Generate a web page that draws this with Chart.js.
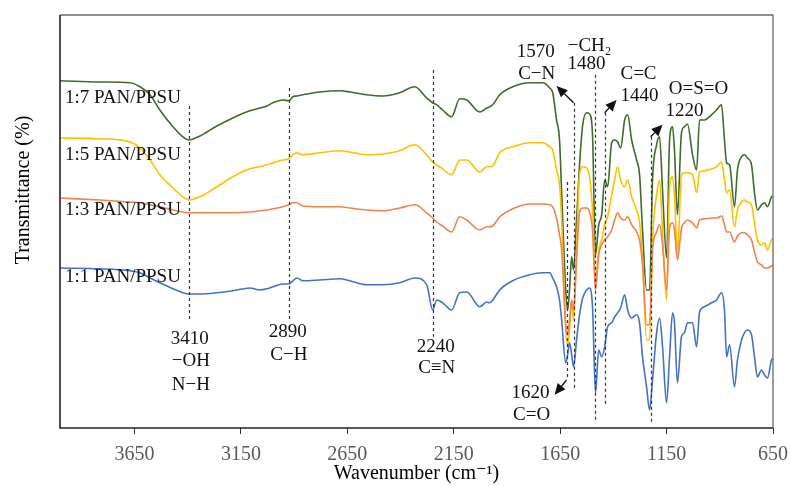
<!DOCTYPE html>
<html>
<head>
<meta charset="utf-8">
<script src="https://cdn.jsdelivr.net/npm/chart.js@4.4.1/dist/chart.umd.min.js"></script>
<style>
  html, body { margin: 0; padding: 0; background: #fff; }
  #espectroFtir { display: block; }
</style>
</head>
<body>
<canvas id="espectroFtir" width="790" height="486"></canvas>
<script>
// Wavenumber (cm-1), shared by all four spectra
const wavenumbers = [
  4000, 3812, 3671, 3624, 3577, 3531, 3469, 3423, 3394, 3343,
  3263, 3188, 3108, 3061, 3028, 3000, 2953, 2925, 2906, 2887,
  2859, 2779, 2685, 2638, 2559, 2484, 2404, 2333, 2277, 2249,
  2230, 2202, 2160, 2122, 2089, 2028, 1995, 1981, 1967, 1934,
  1873, 1793, 1732, 1699, 1685, 1667, 1653, 1643, 1624, 1615,
  1606, 1596, 1587, 1573, 1559, 1544, 1526, 1512, 1498, 1484,
  1469, 1455, 1441, 1427, 1408, 1394, 1380, 1366, 1347, 1333,
  1314, 1291, 1277, 1263, 1244, 1230, 1216, 1197, 1183, 1169,
  1150, 1136, 1122, 1113, 1099, 1080, 1066, 1052, 1028, 1009,
  995, 972, 939, 915, 892, 878, 868, 854, 831, 817,
  798, 784, 770, 751, 737, 723, 704, 690, 676, 657,
  650
];

// Transmittance (offset, arbitrary units)
const pan1ppsu = [
  40, 39.8, 39.3, 38.8, 37.5, 36.3, 34.8, 33.8, 33.5, 33.5,
  33.8, 34.3, 35, 34.5, 34.8, 35.3, 36, 36, 36.8, 37.5,
  36.8, 37, 37.3, 36.8, 35.8, 35.8, 36.3, 37.5, 35.8, 29.5,
  32, 31.3, 29.5, 33.8, 34, 30.3, 31.5, 31.3, 32, 34.5,
  36.8, 38.3, 38.8, 38.8, 37.5, 35.3, 32, 27, 16.3, 18.3,
  21.3, 18.3, 15.3, 22, 28.3, 32.5, 34.5, 35, 30.3, 8.8,
  19.5, 17.8, 20.3, 25.3, 26.3, 27.8, 28.8, 30, 33.3, 29.5,
  27.5, 28.3, 26.3, 17.8, 10.3, 4.5, 12, 23.8, 27.5, 20.3,
  6.3, 17.8, 28.8, 26.3, 11.3, 22.8, 23.8, 26.3, 26.3, 20.3,
  29, 30.3, 31.3, 32, 33.8, 29.5, 17.8, 20.8, 10.3, 17,
  22, 23.8, 24.5, 23.3, 17.8, 12.8, 14.5, 13.3, 12.5, 17,
  17.5
];

const pan3ppsu = [
  57.5, 57, 56.5, 56.3, 55.8, 55.3, 54.5, 54, 53.8, 53.8,
  53.8, 53.8, 54, 54.3, 54.5, 54.8, 55.3, 55.8, 56.3, 56.3,
  55.5, 55.3, 55.3, 55, 54.5, 54.3, 55, 55.8, 53.8, 52.5,
  51.5, 50.5, 49, 52.8, 52, 49.5, 50.3, 50.3, 50.5, 52.8,
  54.8, 56, 56, 55.8, 55.3, 52.5, 48.3, 44.5, 25.8, 23.3,
  27, 32, 29.5, 42, 54, 55, 55, 54, 49.5, 34.5,
  43.3, 45.8, 47, 47.8, 49.5, 52, 53.8, 52.5, 52, 52.8,
  50.8, 49, 47, 40.8, 25.8, 25.8, 44.5, 49, 50.8, 45.8,
  34.5, 50, 51.3, 49.5, 42, 50, 51.3, 52, 51.3, 50,
  52, 52.3, 52.5, 52.5, 53, 50.8, 49, 49, 46.5, 48,
  48.8, 48.8, 48.3, 47, 44, 41.5, 40.8, 40, 40, 40.5,
  40.8
];

const pan5ppsu = [
  72.5, 72.3, 71.5, 70, 67, 63.3, 60, 57.8, 57, 57.8,
  60.3, 62.8, 64.8, 65.3, 65.8, 66.3, 67, 67.3, 68.3, 68.8,
  68.3, 68.8, 69.3, 69, 68.3, 68.5, 69.3, 70.8, 68.3, 66.5,
  65.8, 64.8, 63.3, 67, 67, 64, 65.3, 65.3, 65.5, 68.8,
  70.3, 71.3, 71.3, 70.3, 69.5, 64.5, 60.8, 52, 24.5, 20.8,
  24.5, 32, 27, 44.5, 63.3, 65.3, 65, 62.8, 54.5, 37,
  44.5, 47, 50.8, 52.8, 58.3, 62, 65.3, 62, 60.3, 62,
  57.8, 54.5, 51.5, 42, 22, 22, 47, 58.3, 62, 48.8,
  32, 60.3, 62.8, 58.3, 43.3, 63.3, 63.8, 63.8, 63.3, 58.8,
  64, 64.3, 64.8, 65.3, 66.5, 62, 58.8, 59.5, 50.3, 54.5,
  56.5, 57, 56.5, 55.8, 51.3, 47, 45.8, 46.3, 44.5, 47,
  47.5
];

const pan7ppsu = [
  86.8, 86.5, 86.3, 85.3, 83.3, 79.5, 75.3, 72.8, 72, 73,
  75.5, 77.5, 79.3, 80, 80.5, 81.3, 82, 81.8, 82.8, 83,
  83.3, 84, 84.3, 84, 83.3, 83, 83.8, 85.3, 82.5, 81.3,
  80.8, 79.5, 77.8, 82.3, 82, 79, 80, 80.3, 80.8, 83.3,
  85.3, 86.3, 86.3, 85, 83.8, 77, 72, 58.8, 34.5, 29.5,
  34.5, 42.8, 39.5, 52, 65.8, 75.8, 78.8, 78.5, 73.3, 43.3,
  50.8, 53.3, 62, 60.3, 71.3, 72, 71.5, 70, 77, 78.3,
  72, 67, 63.3, 49.5, 34.5, 34.5, 62, 70.8, 72.8, 59.5,
  42.5, 72, 75.3, 69.5, 53.3, 73.8, 75.3, 76, 68.3, 64.5,
  77, 77, 78.3, 79.5, 80.8, 72, 66.3, 65.8, 55.3, 64.5,
  67.8, 68.3, 67.5, 65.8, 58.8, 54.5, 55.8, 56.3, 55.3, 57.8,
  58
];

const seriesNames = ["1:1 PAN/PPSU", "1:3 PAN/PPSU", "1:5 PAN/PPSU", "1:7 PAN/PPSU"];
const xTickValues = [3650, 3150, 2650, 2150, 1650, 1150, 650];

// Peak marks: dashed guide lines, arrows and band labels (wavenumber / transmittance units)
const lineasPico = [
  { wn: 3394, top: 80.5, bottom: 26.5 },
  { wn: 2925, top: 85, bottom: 27 },
  { wn: 2249, top: 89.5, bottom: 22.8 },
  { wn: 1620, top: 61.5, bottom: 12 },
  { wn: 1587, top: 81.3, bottom: 10 },
  { wn: 1488, top: 88.3, bottom: 1.3 },
  { wn: 1441, top: 78.8, bottom: 5.3 },
  { wn: 1225, top: 72.8, bottom: 1.3 }
];
const flechas = [
  { from: [1587, 81.3], to: [1667, 85.5] },
  { from: [1441, 78.8], to: [1385, 82] },
  { from: [1225, 72.8], to: [1169, 75.8] },
  { from: [1620, 12], to: [1676, 8.3] }
];
const textosPico = [
  { t: "1570", wn: 1765, y: 94 }, { t: "C\u2212N", wn: 1760, y: 88.5 },
  { t: "\u2212CH\u2082", wn: 1512, y: 95.5 }, { t: "1480", wn: 1526, y: 91 },
  { t: "C=C", wn: 1282, y: 88.5 }, { t: "1440", wn: 1277, y: 83 },
  { t: "O=S=O", wn: 1000, y: 84.8 }, { t: "1220", wn: 1066, y: 79.3 },
  { t: "1620", wn: 1789, y: 8.8 }, { t: "C=O", wn: 1784, y: 3.3 },
  { t: "2240", wn: 2235, y: 20.3 }, { t: "C\u2261N", wn: 2230, y: 15 },
  { t: "3410", wn: 3390, y: 22.3 }, { t: "\u2212OH", wn: 3385, y: 16.8 }, { t: "N\u2212H", wn: 3385, y: 10.8 },
  { t: "2890", wn: 2930, y: 24 }, { t: "C\u2212H", wn: 2925, y: 18.3 }
];
const etiquetasSerie = [
  { t: seriesNames[3], wn: 3977, y: 82.5 },
  { t: seriesNames[2], wn: 3977, y: 68.3 },
  { t: seriesNames[1], wn: 3977, y: 54.5 },
  { t: seriesNames[0], wn: 3977, y: 37.8 }
];

const serif = "'Liberation Serif', 'DejaVu Serif', serif";

const notasPlugin = {
  id: "notasFtir",
  afterDatasetsDraw(chart) {
    const { ctx, chartArea, scales: { x, y } } = chart;
    ctx.save();

    // frame
    ctx.setLineDash([]);
    ctx.lineWidth = 1.3;
    ctx.strokeStyle = "#6b6b6b";
    ctx.beginPath();
    ctx.moveTo(chartArea.left, chartArea.top);
    ctx.lineTo(chartArea.right, chartArea.top);
    ctx.lineTo(chartArea.right, chartArea.bottom);
    ctx.stroke();
    ctx.strokeStyle = "#222";
    ctx.lineWidth = 1.6;
    ctx.beginPath();
    ctx.moveTo(chartArea.left, chartArea.top);
    ctx.lineTo(chartArea.left, chartArea.bottom);
    ctx.lineTo(chartArea.right, chartArea.bottom);
    ctx.stroke();

    // dashed guide lines
    ctx.setLineDash([3, 3]);
    ctx.lineWidth = 1.2;
    ctx.strokeStyle = "#333";
    lineasPico.forEach(l => {
      const px = Math.round(x.getPixelForValue(l.wn)) + 0.5;
      ctx.beginPath();
      ctx.moveTo(px, y.getPixelForValue(l.top));
      ctx.lineTo(px, y.getPixelForValue(l.bottom));
      ctx.stroke();
    });

    // arrows
    ctx.setLineDash([]);
    ctx.fillStyle = "#111";
    ctx.strokeStyle = "#111";
    ctx.lineWidth = 1.3;
    flechas.forEach(f => {
      const x0 = x.getPixelForValue(f.from[0]), y0 = y.getPixelForValue(f.from[1]);
      const x1 = x.getPixelForValue(f.to[0]), y1 = y.getPixelForValue(f.to[1]);
      const ang = Math.atan2(y1 - y0, x1 - x0);
      const largo = 11, ancho = 5;
      const bx = x1 - largo * Math.cos(ang), by = y1 - largo * Math.sin(ang);
      ctx.beginPath();
      ctx.moveTo(x0, y0);
      ctx.lineTo(bx, by);
      ctx.stroke();
      ctx.beginPath();
      ctx.moveTo(x1, y1);
      ctx.lineTo(bx + ancho * Math.sin(ang), by - ancho * Math.cos(ang));
      ctx.lineTo(bx - ancho * Math.sin(ang), by + ancho * Math.cos(ang));
      ctx.closePath();
      ctx.fill();
    });

    // band labels
    ctx.font = "19px " + serif;
    ctx.fillStyle = "#111";
    ctx.textAlign = "center";
    ctx.textBaseline = "middle";
    textosPico.forEach(t => {
      ctx.fillText(t.t, x.getPixelForValue(t.wn), y.getPixelForValue(t.y));
    });

    // series labels
    ctx.textAlign = "left";
    etiquetasSerie.forEach(t => {
      ctx.fillText(t.t, x.getPixelForValue(t.wn), y.getPixelForValue(t.y));
    });

    // y axis title
    ctx.font = "20px " + serif;
    ctx.fillStyle = "#000";
    ctx.textAlign = "center";
    ctx.translate(24, 190);
    ctx.rotate(-Math.PI / 2);
    ctx.fillText("Transmittance (%)", 0, 0);

    ctx.restore();
  }
};

const serie = (valores, color) => ({
  data: wavenumbers.map((wn, i) => ({ x: wn, y: valores[i] })),
  borderColor: color,
  borderWidth: 1.6,
  pointRadius: 0,
  cubicInterpolationMode: "monotone",
  fill: false
});

new Chart(document.getElementById("espectroFtir"), {
  type: "line",
  data: {
    datasets: [
      Object.assign(serie(pan1ppsu, "#4472c4"), { label: seriesNames[0] }),
      Object.assign(serie(pan3ppsu, "#f0834f"), { label: seriesNames[1] }),
      Object.assign(serie(pan5ppsu, "#ffc000"), { label: seriesNames[2] }),
      Object.assign(serie(pan7ppsu, "#3f6b2d"), { label: seriesNames[3] })
    ]
  },
  options: {
    responsive: false,
    devicePixelRatio: 1,
    animation: false,
    layout: { padding: { top: 15, right: 17, left: 0, bottom: 0 } },
    plugins: {
      legend: { display: false },
      tooltip: { enabled: false }
    },
    scales: {
      x: {
        type: "linear",
        reverse: true,
        min: 650,
        max: 4000,
        afterBuildTicks: scale => {
          scale.ticks = xTickValues.map(v => ({ value: v }));
        },
        afterFit: scale => {
          scale.height = 58;
          scale.paddingLeft = 0;
          scale.paddingRight = 0;
        },
        ticks: {
          autoSkip: false,
          maxRotation: 0,
          padding: 9,
          color: "#595959",
          font: { family: serif, size: 20 },
          callback: v => String(v)
        },
        grid: {
          drawOnChartArea: false,
          drawTicks: true,
          tickLength: 6,
          color: "#333"
        },
        border: { display: false },
        title: {
          display: true,
          text: "Wavenumber (cm\u207B\u00B9)",
          color: "#000",
          font: { family: serif, size: 20 },
          padding: { top: 0, bottom: 0 }
        }
      },
      y: {
        min: 0,
        max: 103.25,
        afterFit: scale => { scale.width = 60; },
        ticks: { display: false },
        grid: { display: false },
        border: { display: false }
      }
    }
  },
  plugins: [notasPlugin]
});
</script>
</body>
</html>
